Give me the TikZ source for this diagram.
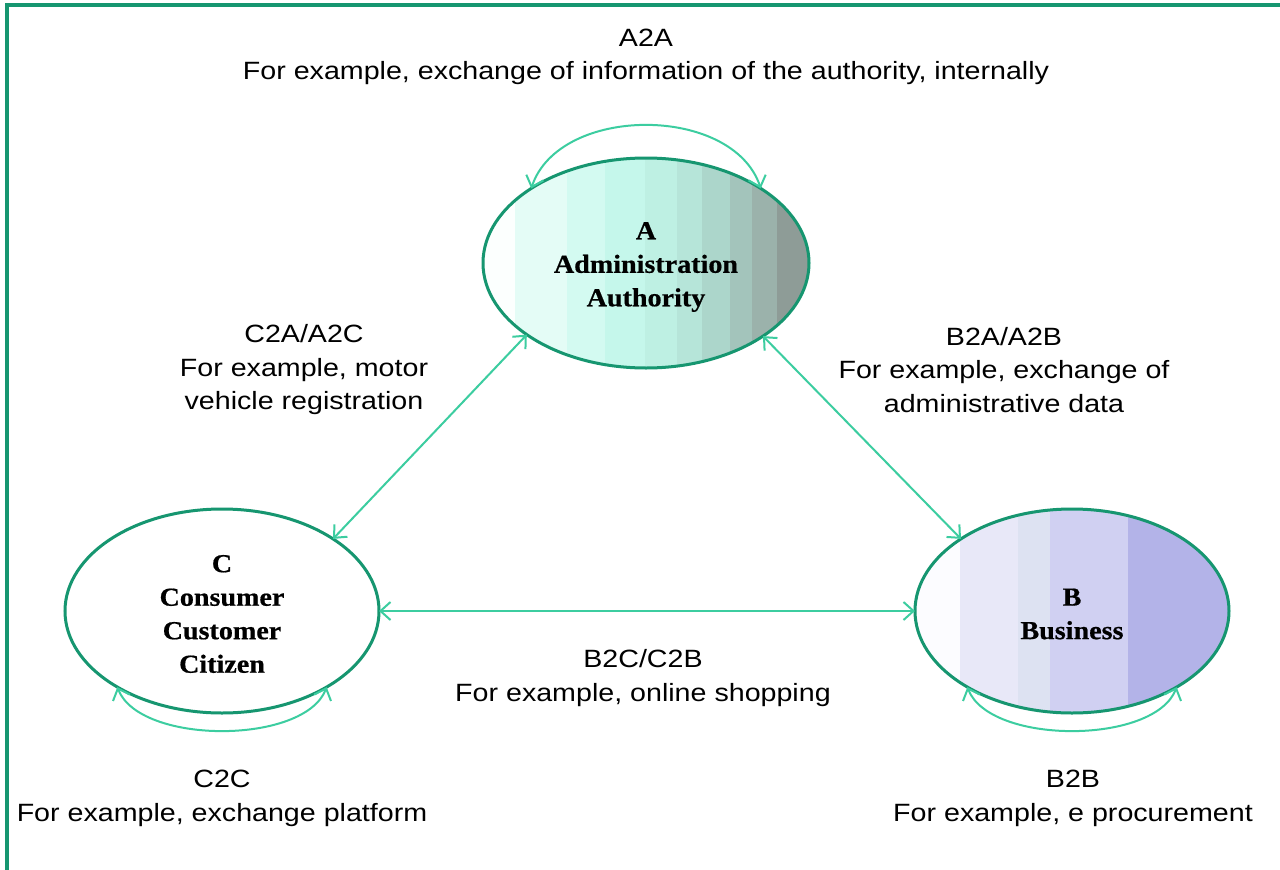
\documentclass[tikz,border=0pt]{standalone}
\usepackage{fontspec}
\usetikzlibrary{shapes.geometric,arrows.meta}
\newfontfamily\labfont[FakeStretch=1.145]{Liberation Sans}
\newfontfamily\elfont[FakeStretch=1.08,FakeBold=0.6]{Liberation Serif}
\definecolor{framegreen}{RGB}{22,150,112}
\definecolor{arrteal}{RGB}{60,205,160}
\definecolor{aA0}{HTML}{FCFFFE}
\definecolor{aA1}{HTML}{E4FCF6}
\definecolor{aA2}{HTML}{D3FAF1}
\definecolor{aA3}{HTML}{C5F7EB}
\definecolor{aA4}{HTML}{BEF0E3}
\definecolor{aA5}{HTML}{B6E5D9}
\definecolor{aA6}{HTML}{ACD6CB}
\definecolor{aA7}{HTML}{A3C4BB}
\definecolor{aA8}{HTML}{9BB2AB}
\definecolor{aA9}{HTML}{8E9C97}
\definecolor{bB0}{HTML}{FCFCFF}
\definecolor{bB1}{HTML}{E8E8F8}
\definecolor{bB2}{HTML}{DDE2F2}
\definecolor{bB3}{HTML}{D0D0F2}
\definecolor{bB4}{HTML}{B3B3E8}
\begin{document}
\begin{tikzpicture}[x=1pt,y=-1pt,
  ell/.style={ellipse, draw=framegreen, line width=3pt, inner sep=0pt, outer sep=0pt,
    align=center, font=\elfont\fontsize{26}{33.5}\selectfont\bfseries},
  lab/.style={align=center, font=\labfont\fontsize{25}{33.5}\selectfont},
  barb/.tip={Straight Barb[length=10pt,width=18pt]},
  conn/.style={draw=arrteal, line width=2pt, barb-barb}]
\useasboundingbox (0,0) rectangle (1280,870);
\fill[white] (0,0) rectangle (1280,870);
\draw[framegreen, line width=3.5pt] (7,872) -- (7,5) -- (1282,5);

% banded fill of A
\begin{scope}
  \clip (646,263) ellipse [x radius=163, y radius=105];
  \fill[aA0] (483,150) rectangle (515,380);
  \fill[aA1] (515,150) rectangle (567,380);
  \fill[aA2] (567,150) rectangle (605,380);
  \fill[aA3] (605,150) rectangle (645,380);
  \fill[aA4] (645,150) rectangle (677,380);
  \fill[aA5] (677,150) rectangle (702,380);
  \fill[aA6] (702,150) rectangle (730,380);
  \fill[aA7] (730,150) rectangle (752,380);
  \fill[aA8] (752,150) rectangle (777,380);
  \fill[aA9] (777,150) rectangle (812,380);
\end{scope}
% banded fill of B
\begin{scope}
  \clip (1072,611) ellipse [x radius=157, y radius=102];
  \fill[bB0] (913,500) rectangle (960,720);
  \fill[bB1] (960,500) rectangle (1018,720);
  \fill[bB2] (1018,500) rectangle (1050,720);
  \fill[bB3] (1050,500) rectangle (1128,720);
  \fill[bB4] (1128,500) rectangle (1232,720);
\end{scope}

\node[ell, minimum width=326pt, minimum height=210pt] (A) at (646,263) {};
\node[ell, minimum width=314pt, minimum height=204pt] (C) at (222,611) {};
\node[ell, minimum width=314pt, minimum height=204pt] (B) at (1072,611) {};
\node[align=center, font=\elfont\fontsize{26}{33.5}\selectfont\bfseries] (tA) at (646,267) {A\\Administration\\Authority};
\node[align=center, font=\elfont\fontsize{26}{33.5}\selectfont\bfseries] (tC) at (222,614) {C\\Consumer\\Customer\\Citizen};
\node[align=center, font=\elfont\fontsize{26}{33.5}\selectfont\bfseries] (tB) at (1072,614) {B\\Business};

\draw[conn] (A.147) .. controls +(28,-84) and +(-28,-84) .. (A.33);
\draw[conn] (C.216) .. controls +(22,58) and +(-22,58) .. (C.324);
\draw[conn] (B.216) .. controls +(22,58) and +(-22,58) .. (B.324);
\draw[conn] (C.33) -- (A.211.5);
\draw[conn] (A.328.5) -- (B.147.6);
\draw[conn] (C.east) -- (B.west);

\node[lab] (tAA) at (646,57) {A2A\\For example, exchange of information of the authority, internally};
\node[lab] (tCA) at (304,370) {C2A/A2C\\For example, motor\\vehicle registration};
\node[lab] (tBA) at (1004,370) {B2A/A2B\\For example, exchange of\\administrative data};
\node[lab] (tBC) at (643,678) {B2C/C2B\\For example, online shopping};
\node[lab] (tCC) at (222,798.5) {C2C\\For example, exchange platform};
\node[lab] (tBB) at (1073,798.5) {B2B\\For example, e procurement};
\end{tikzpicture}
\end{document}
